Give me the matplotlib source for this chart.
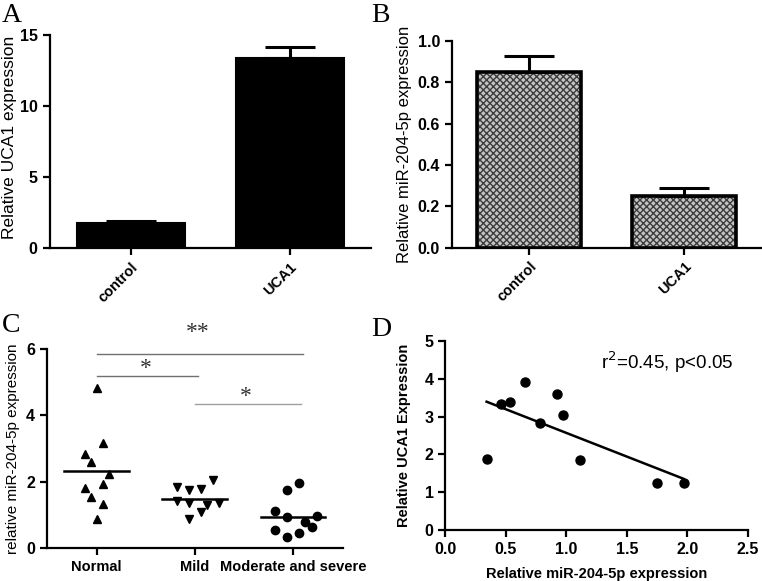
import matplotlib
matplotlib.use("Agg")
import matplotlib.pyplot as plt
import numpy as np

plt.rcParams['font.family'] = ['Liberation Sans', 'DejaVu Sans']
plt.rcParams['hatch.linewidth'] = 1.0

# panel A / B data
groups = ['control', 'UCA1']
uca1_expr = [1.75, 13.35]
uca1_err = [0.15, 0.78]
mir_expr = [0.852, 0.25]
mir_err = [0.077, 0.04]

# panel C data
c_groups = ['Normal', 'Mild', 'Moderate and severe']
normal_vals = [4.82, 3.18, 2.83, 2.58, 2.23, 1.92, 1.81, 1.52, 1.31, 0.86]
mild_vals = [1.84, 1.74, 1.78, 2.05, 1.41, 1.36, 1.36, 1.29, 1.09, 0.86]
severe_vals = [1.74, 1.97, 1.11, 0.92, 0.96, 0.79, 0.64, 0.54, 0.45, 0.31]

# panel D data
mir_x = [0.34, 0.458, 0.535, 0.656, 0.78, 0.92, 0.971, 1.109, 1.75, 1.97]
uca1_y = [1.87, 3.33, 3.39, 3.92, 2.82, 3.61, 3.03, 1.85, 1.25, 1.25]

# horizontal spread of the dot plot (layout only)
normal_dx = [0, 0.06, -0.12, -0.06, 0.125, 0.06, -0.12, -0.06, 0.06, 0]
mild_dx = [-0.18, -0.06, 0.06, 0.19, -0.18, -0.06, 0.25, 0.125, 0.06, -0.06]
severe_dx = [-0.06, 0.06, -0.18, -0.06, 0.245, 0.12, 0.19, -0.18, 0.06, -0.06]

W, H = 762, 581
fig = plt.figure(figsize=(W / 100, H / 100), dpi=100)


def px_axes(l, t, r, b):
    return fig.add_axes([l / W, 1 - b / H, (r - l) / W, (b - t) / H])


def style(ax, lw=1.6):
    for s in ['top', 'right']:
        ax.spines[s].set_visible(False)
    for s in ['left', 'bottom']:
        ax.spines[s].set_linewidth(lw)
    ax.tick_params(direction='out', length=5, width=lw)


# ---- A
axA = px_axes(49.5, 35, 371, 248)
x = np.arange(len(groups))
axA.bar(x, uca1_expr, width=0.68, color='black', edgecolor='black', linewidth=1.5)
axA.errorbar(x, uca1_expr, yerr=[np.zeros(2), uca1_err], fmt='none', ecolor='black',
             elinewidth=2.2, capsize=18, capthick=2.2)
axA.set_xlim(-0.51, 1.51)
axA.set_ylim(0, 15)
axA.set_yticks([0, 5, 10, 15])
axA.set_xticks(x)
axA.set_xticklabels(groups, rotation=45, ha='right', rotation_mode='anchor',
                    fontsize=10.5, fontweight='bold')
style(axA)
for t in axA.get_yticklabels():
    t.set_fontsize(11.5)
    t.set_fontweight('bold')
axA.set_ylabel('Relative UCA1 expression', fontsize=12.5)
axA.yaxis.set_label_coords(-0.1, 0.52)

# ---- B
axB = px_axes(451.7, 41, 762, 247.7)
axB.bar(x, mir_expr, width=0.67, color='#c4c4c4', edgecolor='#3c3c3c', hatch='xxxxx', linewidth=0)
axB.bar(x, mir_expr, width=0.67, fill=False, edgecolor='black', linewidth=2.6)
axB.errorbar(x, mir_expr, yerr=[np.zeros(2), mir_err], fmt='none', ecolor='black',
             elinewidth=2.2, capsize=18, capthick=2.2)
axB.set_xlim(-0.50, 1.50)
axB.set_ylim(0, 1.0)
axB.set_yticks([0, 0.2, 0.4, 0.6, 0.8, 1.0])
axB.set_yticklabels(['0.0', '0.2', '0.4', '0.6', '0.8', '1.0'])
axB.set_xticks(x)
axB.set_xticklabels(groups, rotation=45, ha='right', rotation_mode='anchor',
                    fontsize=10.5, fontweight='bold')
style(axB)
for t in axB.get_yticklabels():
    t.set_fontsize(11.5)
    t.set_fontweight('bold')
axB.set_ylabel('Relative miR-204-5p expression', fontsize=12)

# ---- C
axC = px_axes(46.7, 349.3, 343, 547.7)
pos = [1, 2, 3]
axC.plot(pos[0] + np.array(normal_dx), normal_vals, '^', color='black', ms=6)
axC.plot(pos[1] + np.array(mild_dx), mild_vals, 'v', color='black', ms=6)
axC.plot(pos[2] + np.array(severe_dx), severe_vals, 'o', color='black', ms=6)
for p, vals in zip(pos, [normal_vals, mild_vals, severe_vals]):
    axC.plot([p - 0.33, p + 0.33], [np.mean(vals)] * 2, color='black', lw=1.8)
axC.set_xlim(0.49, 3.51)
axC.set_ylim(0, 6)
axC.set_yticks([0, 2, 4, 6])
axC.set_xticks(pos)
axC.set_xticklabels(c_groups, fontsize=10.5, fontweight='bold')
style(axC)
for t in axC.get_yticklabels():
    t.set_fontsize(11.5)
    t.set_fontweight('bold')
axC.set_ylabel('relative miR-204-5p expression', fontsize=11)
axC.yaxis.set_label_coords(-0.09, 0.5)
# significance marks
sig = [(1.0, 3.1, 5.86, 6.5, '**', '#707070'),
       (1.0, 2.03, 5.18, 5.42, '*', '#707070'),
       (2.0, 3.08, 4.34, 4.58, '*', '#a0a0a0')]
for x0, x1, yl, ys, s, c in sig:
    axC.plot([x0, x1], [yl, yl], color=c, lw=1.0, clip_on=False)
    axC.text((x0 + x1) / 2 - 0.02, ys, s, ha='center', va='center', fontsize=17,
             family='Liberation Serif', color='#333333')

# ---- D
axD = px_axes(445.5, 341, 747.7, 530)
axD.plot(mir_x, uca1_y, 'o', color='black', ms=6.5)
k, b0 = np.polyfit(mir_x, uca1_y, 1)
xx = np.array([min(mir_x), max(mir_x)])
axD.plot(xx, k * xx + b0, color='black', lw=1.8)
axD.set_xlim(0, 2.5)
axD.set_ylim(0, 5)
axD.set_xticks([0, 0.5, 1.0, 1.5, 2.0, 2.5])
axD.set_xticklabels(['0.0', '0.5', '1.0', '1.5', '2.0', '2.5'])
axD.set_yticks([0, 1, 2, 3, 4, 5])
style(axD)
for t in axD.get_xticklabels() + axD.get_yticklabels():
    t.set_fontsize(11.5)
    t.set_fontweight('bold')
axD.set_xlabel('Relative miR-204-5p expression', fontsize=10.5, fontweight='bold', labelpad=7)
axD.set_ylabel('Relative UCA1 Expression', fontsize=10.5, fontweight='bold', labelpad=10)
axD.text(1.29, 4.45, r'r$^2$=0.45, p<0.05', fontsize=13.5, va='center')

# panel letters
for lx, ly, s in [(2, 22, 'A'), (371, 22, 'B'), (2, 332, 'C'), (371, 336, 'D')]:
    fig.text(lx / W, 1 - ly / H, s, fontsize=20, family='Liberation Serif', va='baseline')

fig.savefig('out.png', dpi=100)
